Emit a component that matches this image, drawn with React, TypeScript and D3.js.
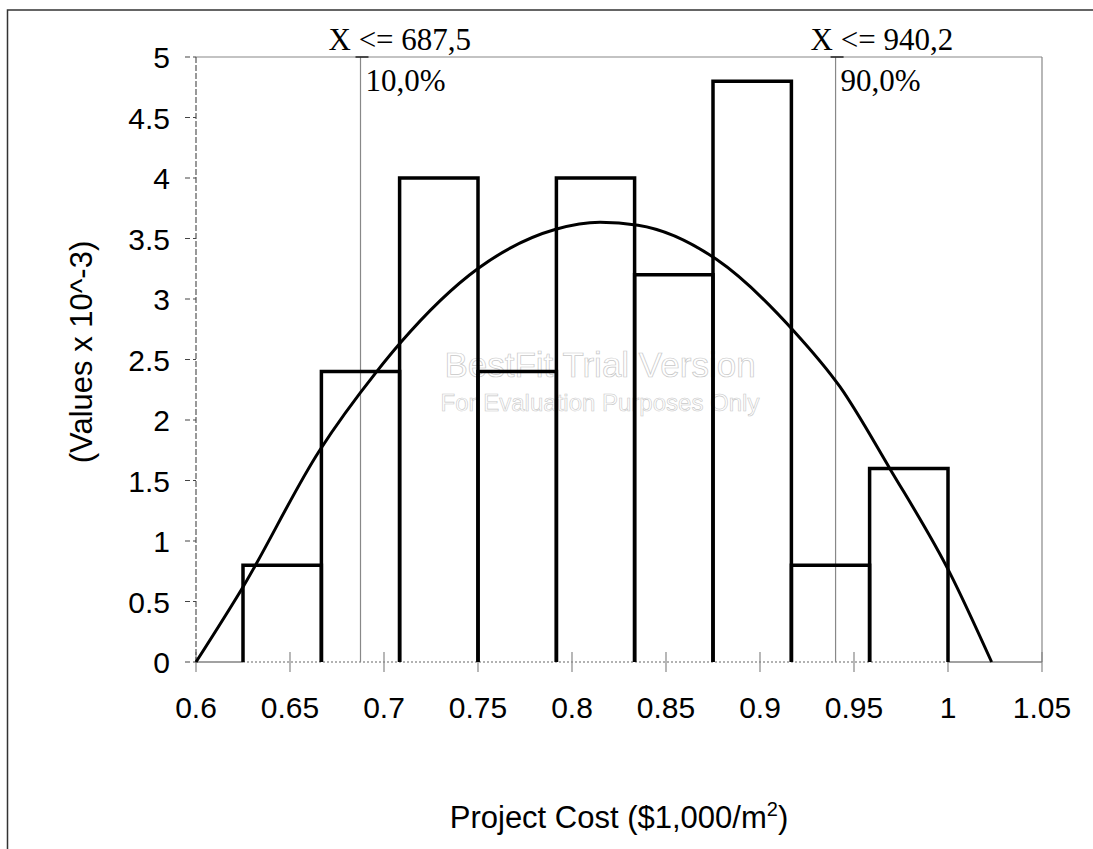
import React from 'react';
import * as d3 from 'd3';

// histogram bins (Project Cost, $1,000/m2) and heights (x 10^-3)
const binEdges = [0.625, 0.6667, 0.7083, 0.75, 0.7917, 0.8333, 0.875, 0.9167, 0.9583, 1.0];
const binValues = [0.8, 2.4, 4.0, 2.4, 4.0, 3.2, 4.8, 0.8, 1.6];

// fitted curve
const curveX = [0.6, 0.625, 0.6654, 0.6961, 0.7085, 0.7502, 0.7914, 0.8149, 0.8351, 0.8768, 0.9183, 0.9425, 0.969, 1.0011, 1.0232];
const curveY = [0, 0.62, 1.74, 2.4, 2.634, 3.254, 3.576, 3.634, 3.61, 3.328, 2.73, 2.275, 1.6, 0.733, 0];

// percentile markers
const pctValues = [0.6875, 0.9402];
const pctLabels = ['X <= 687,5', 'X <= 940,2'];
const pctText = ['10,0%', '90,0%'];

const xTicks = [0.6, 0.65, 0.7, 0.75, 0.8, 0.85, 0.9, 0.95, 1, 1.05];
const yTicks = [0, 0.5, 1, 1.5, 2, 2.5, 3, 3.5, 4, 4.5, 5];

const W = 1093;
const H = 849;
const margin = { left: 196, right: 1042, top: 57, bottom: 662 };

const sans = 'Liberation Sans, Arial, sans-serif';
const serif = 'Liberation Serif, Times New Roman, serif';

const App = () => {
  const x = d3.scaleLinear().domain([0.6, 1.05]).range([margin.left, margin.right]);
  const y = d3.scaleLinear().domain([0, 5]).range([margin.bottom, margin.top]);

  const line = d3.line<number>()
    .x((d, i) => x(curveX[i]))
    .y(d => y(d))
    .curve(d3.curveMonotoneX);

  const first = binEdges[0];
  const last = binEdges[binEdges.length - 1];

  return (
    <svg width={W} height={H} style={{ position: 'absolute', left: 0, top: 0, background: '#fff' }}>
      {/* outer frame */}
      <path d={`M7.5,${H + 5} L7.5,10 L${W + 5},10`} fill="none" stroke="#333" strokeWidth={1.5} />

      {/* plot frame */}
      <line x1={margin.left} x2={margin.right} y1={margin.top} y2={margin.top} stroke="#888" strokeWidth={1.2} />
      <line x1={margin.right} x2={margin.right} y1={margin.top} y2={margin.bottom} stroke="#888" strokeWidth={1.2} />

      {/* x axis baseline */}
      <line x1={x(first)} x2={x(last)} y1={y(0)} y2={y(0)} stroke="#666" strokeWidth={1.2} strokeDasharray="2,2" />
      <line x1={x(0.6)} x2={x(first)} y1={y(0)} y2={y(0)} stroke="#444" strokeWidth={1.2} />
      <line x1={x(last)} x2={x(1.05)} y1={y(0)} y2={y(0)} stroke="#444" strokeWidth={1.2} />
      {xTicks.map(t => (
        <g key={t}>
          <line x1={x(t)} x2={x(t)} y1={y(0) - 10} y2={y(0) + 10} stroke="#888" strokeWidth={1.2} />
          <text x={x(t)} y={718} textAnchor="middle" fontFamily={sans} fontSize={30} fill="#000">{t}</text>
        </g>
      ))}

      {/* y axis */}
      <line x1={margin.left} x2={margin.left} y1={margin.top} y2={margin.bottom} stroke="#555" strokeWidth={1.2} strokeDasharray="6,2" />
      {yTicks.map(t => (
        <g key={t}>
          <line x1={185} x2={margin.left} y1={y(t)} y2={y(t)} stroke="#444" strokeWidth={1.2} strokeDasharray="5,3" />
          <text x={170} y={y(t) + 11} textAnchor="end" fontFamily={sans} fontSize={30} fill="#000">{t}</text>
        </g>
      ))}

      {/* watermark */}
      <text x={600} y={377} textAnchor="middle" fontFamily={sans} fontSize={35} fill="#fff" stroke="#c8c8c8" strokeWidth={0.7}>BestFit Trial Version</text>
      <text x={600} y={411} textAnchor="middle" fontFamily={sans} fontSize={24} fill="#fff" stroke="#c8c8c8" strokeWidth={0.6}>For Evaluation Purposes Only</text>

      {/* percentile lines */}
      {pctValues.map((p, i) => (
        <g key={p}>
          <line x1={x(p)} x2={x(p)} y1={margin.top} y2={margin.bottom} stroke="#888" strokeWidth={1.2} />
          <line x1={x(p) - 5} x2={x(p) + 8} y1={margin.top} y2={margin.top} stroke="#222" strokeWidth={1.5} />
          <text x={x(p) - (i === 0 ? 32 : 25)} y={50} fontFamily={serif} fontSize={31} fill="#000">{pctLabels[i]}</text>
          <text x={x(p) + 5} y={91} fontFamily={serif} fontSize={31} fill="#000">{pctText[i]}</text>
        </g>
      ))}

      {/* histogram */}
      {binValues.map((v, i) => {
        const x0 = x(binEdges[i]);
        const x1 = x(binEdges[i + 1]);
        return (
          <path key={i} d={`M${x0},${y(0)} L${x0},${y(v)} L${x1},${y(v)} L${x1},${y(0)}`}
            fill="none" stroke="#000" strokeWidth={3.5} />
        );
      })}

      {/* fitted curve */}
      <path d={line(curveY) || ''} fill="none" stroke="#000" strokeWidth={3} />

      {/* axis titles */}
      <text transform="translate(92,352) rotate(-90)" textAnchor="middle" fontFamily={sans} fontSize={31} fill="#000">(Values x 10^-3)</text>
      <text x={619} y={828} textAnchor="middle" fontFamily={sans} fontSize={31} fill="#000">
        Project Cost ($1,000/m<tspan dy={-12} fontSize={20}>2</tspan><tspan dy={12}>)</tspan>
      </text>
    </svg>
  );
};

export default App;
